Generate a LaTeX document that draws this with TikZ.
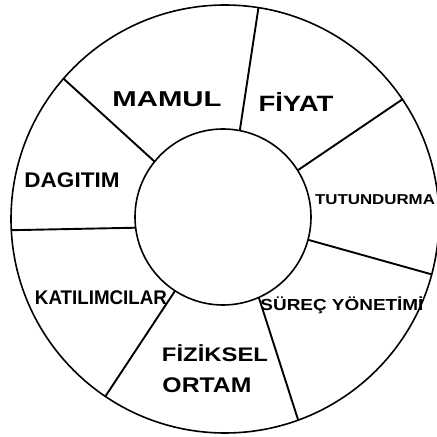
\documentclass[tikz,border=0pt]{standalone}
\usepackage{fontspec}
\usepackage{graphicx}
\setmainfont{Liberation Sans}
\newcommand{\wrd}[3]{\resizebox*{#1pt}{#2pt}{\bfseries #3}}
\tikzset{
  ring/.style={circle, draw, line width=1.6pt, inner sep=0pt, outer sep=0pt},
  spoke/.style={line width=1.9pt},
  lab/.style={inner sep=0pt, outer sep=0pt}
}
\begin{document}
\begin{tikzpicture}[x=1pt,y=1pt]
\useasboundingbox (0,0) rectangle (437,437);
\clip (0,0) rectangle (437,437);
\node[ring, minimum size=428pt] (outer) at (225,218) {};
\node[ring, minimum size=176pt] (inner) at (223,220) {};
% spokes
\draw[spoke] (inner.79.6) -- (outer.81.6);
\draw[spoke] (inner.32.5) -- (outer.34.1);
\draw[spoke] (inner.-15) -- (outer.-15.8);
\draw[spoke] (inner.-66) -- (outer.-70.5);
\draw[spoke] (inner.-123) -- (outer.-124);
\draw[spoke] (inner.187) -- (outer.183.5);
\draw[spoke] (inner.141) -- (outer.139.3);
% labels
\node[lab] (mamul) at (167,338) {\wrd{109}{15}{MAMUL}};
\node[lab] (fiyat) at (296,335) {\wrd{75}{19}{FİYAT}};
\node[lab, anchor=west] (tutun) at (315,237) {\wrd{120}{10}{TUTUNDURMA}};
\node[lab] (surec) at (342,132) {\wrd{163}{17}{SÜREÇ YÖNETİMİ}};
\node[lab] (fiziksel) at (215,84) {\wrd{106}{17}{FİZİKSEL}};
\node[lab] (ortam) at (207,52) {\wrd{89}{15}{ORTAM}};
\node[lab] (katil) at (101,139) {\wrd{132}{14}{KATILIMCILAR}};
\node[lab] (dagitim) at (72,257) {\wrd{95}{15}{DAGITIM}};
\end{tikzpicture}
\end{document}
